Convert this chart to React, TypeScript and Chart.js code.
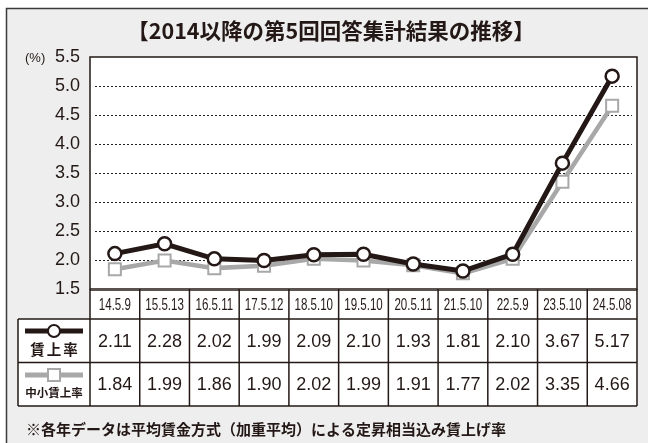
import React, { useEffect, useRef } from "react";
import { Chart, registerables } from "chart.js";

Chart.register(...registerables);

const W = 648;
const H = 443;

const titleText = "【2014以降の第5回回答集計結果の推移】";
const footerText = "※各年データは平均賃金方式（加重平均）による定昇相当込み賃上げ率";
const yUnitLabel = "(%)";

const categories = [
  "14.5.9",
  "15.5.13",
  "16.5.11",
  "17.5.12",
  "18.5.10",
  "19.5.10",
  "20.5.11",
  "21.5.10",
  "22.5.9",
  "23.5.10",
  "24.5.08",
];

const seriesNames = ["賃上率", "中小賃上率"];
const wageRates = [2.11, 2.28, 2.02, 1.99, 2.09, 2.1, 1.93, 1.81, 2.1, 3.67, 5.17];
const smeWageRates = [1.84, 1.99, 1.86, 1.9, 2.02, 1.99, 1.91, 1.77, 2.02, 3.35, 4.66];

const yMin = 1.5;
const yMax = 5.5;
const yStep = 0.5;

const DARK = "#231815";
const GRAY = "#a8a8a8";
const CJK = '"Noto Sans CJK JP", "Noto Sans", sans-serif';
const LATIN = '"Liberation Sans", Arial, sans-serif';

const TABLE_CAT_BOTTOM = 319;
const TABLE_ROW1_BOTTOM = 362.5;
const TABLE_ROW2_BOTTOM = 406;
const TABLE_LEFT = 18;

const decoPlugin = {
  id: "decoPlugin",
  beforeDraw(chart: any) {
    const ctx = chart.ctx as CanvasRenderingContext2D;
    const { left, right, top, bottom } = chart.chartArea;
    ctx.save();
    ctx.fillStyle = "#ffffff";
    ctx.fillRect(0, 0, W, H);
    ctx.fillStyle = "#eeeeee";
    ctx.fillRect(6, 8, W, H);
    ctx.strokeStyle = "#3a3a3a";
    ctx.lineWidth = 1.5;
    ctx.strokeRect(6.5, 8.5, W + 20, H + 20);

    // plot area
    ctx.fillStyle = "#ffffff";
    ctx.fillRect(left, top, right - left, bottom - top);

    // title
    ctx.fillStyle = DARK;
    ctx.font = `bold 21.5px ${CJK}`;
    ctx.textAlign = "center";
    ctx.textBaseline = "middle";
    ctx.fillText(titleText, 331, 31);

    // dotted grid lines
    const ys = chart.scales.y;
    ctx.strokeStyle = "#222";
    ctx.lineWidth = 1;
    ctx.setLineDash([2, 2]);
    for (let v = yMin + yStep; v < yMax - 1e-9; v += yStep) {
      const py = Math.round(ys.getPixelForValue(v)) + 0.5;
      ctx.beginPath();
      ctx.moveTo(left + 5, py);
      ctx.lineTo(right - 5, py);
      ctx.stroke();
    }
    ctx.setLineDash([]);

    // unit label
    ctx.font = `13px ${LATIN}`;
    ctx.textAlign = "left";
    ctx.fillStyle = DARK;
    ctx.fillText(yUnitLabel, 25, ys.getPixelForValue(yMax) + 1);
    ctx.restore();
  },
  afterDraw(chart: any) {
    const ctx = chart.ctx as CanvasRenderingContext2D;
    const { left, right, top, bottom } = chart.chartArea;
    const xs = chart.scales.x;
    ctx.save();

    // plot border
    ctx.strokeStyle = DARK;
    ctx.lineWidth = 1.5;
    ctx.strokeRect(left, top, right - left, bottom - top);

    // table column edges
    const n = categories.length;
    const centers = categories.map((_, i) => xs.getPixelForValue(i));
    const edges: number[] = [left];
    for (let i = 0; i < n - 1; i++) edges.push((centers[i] + centers[i + 1]) / 2);
    edges.push(right);

    // table background
    ctx.fillStyle = "#ffffff";
    ctx.fillRect(left, bottom, right - left, TABLE_ROW2_BOTTOM - bottom);
    ctx.fillRect(TABLE_LEFT, TABLE_CAT_BOTTOM, left - TABLE_LEFT, TABLE_ROW2_BOTTOM - TABLE_CAT_BOTTOM);

    ctx.strokeStyle = DARK;
    ctx.lineWidth = 1.5;
    const hl = (x1: number, x2: number, y: number) => {
      ctx.beginPath();
      ctx.moveTo(x1, y);
      ctx.lineTo(x2, y);
      ctx.stroke();
    };
    const vl = (x: number, y1: number, y2: number) => {
      ctx.beginPath();
      ctx.moveTo(x, y1);
      ctx.lineTo(x, y2);
      ctx.stroke();
    };
    hl(left, right, bottom + 1);
    hl(TABLE_LEFT, right, TABLE_CAT_BOTTOM);
    hl(TABLE_LEFT, right, TABLE_ROW1_BOTTOM);
    hl(TABLE_LEFT, right, TABLE_ROW2_BOTTOM);
    vl(TABLE_LEFT, TABLE_CAT_BOTTOM, TABLE_ROW2_BOTTOM);
    edges.forEach((x) => vl(x, bottom, TABLE_ROW2_BOTTOM));

    // category labels (condensed)
    ctx.fillStyle = DARK;
    ctx.textAlign = "center";
    ctx.textBaseline = "middle";
    ctx.font = `16.5px ${LATIN}`;
    const catY = (bottom + TABLE_CAT_BOTTOM) / 2 + 1;
    categories.forEach((c, i) => {
      ctx.save();
      ctx.translate(centers[i], catY);
      ctx.scale(0.7, 1);
      ctx.fillText(c, 0, 0, 64);
      ctx.restore();
    });

    // values
    ctx.font = `18px ${LATIN}`;
    const r1y = (TABLE_CAT_BOTTOM + TABLE_ROW1_BOTTOM) / 2 + 1;
    const r2y = (TABLE_ROW1_BOTTOM + TABLE_ROW2_BOTTOM) / 2 + 1;
    wageRates.forEach((v, i) => ctx.fillText(v.toFixed(2), centers[i], r1y));
    smeWageRates.forEach((v, i) => ctx.fillText(v.toFixed(2), centers[i], r2y));

    // legend column
    const lx1 = 25;
    const lx2 = 83;
    const lc = 54;
    ctx.strokeStyle = DARK;
    ctx.lineWidth = 5;
    hl(lx1, lx2, 331);
    ctx.fillStyle = "#fff";
    ctx.lineWidth = 2;
    ctx.beginPath();
    ctx.arc(lc, 331, 6, 0, Math.PI * 2);
    ctx.fill();
    ctx.stroke();
    ctx.fillStyle = DARK;
    ctx.font = `bold 14.5px ${CJK}`;
    (ctx as any).letterSpacing = "2px";
    ctx.fillText(seriesNames[0], lc + 1, 349);
    (ctx as any).letterSpacing = "0px";
    ctx.strokeStyle = GRAY;
    ctx.lineWidth = 5;
    hl(lx1, lx2, 375);
    ctx.fillStyle = "#fff";
    ctx.lineWidth = 2;
    ctx.fillRect(lc - 6, 369, 12, 12);
    ctx.strokeRect(lc - 6, 369, 12, 12);
    ctx.fillStyle = DARK;
    ctx.font = `bold 11.5px ${CJK}`;
    ctx.fillText(seriesNames[1], lc, 393);

    // footer
    ctx.textAlign = "left";
    ctx.font = `bold 15px ${CJK}`;
    ctx.fillText(footerText, 26, 429);

    ctx.restore();
  },
};

export default function App() {
  const ref = useRef<HTMLCanvasElement | null>(null);

  useEffect(() => {
    if (!ref.current) return;
    const chart = new Chart(ref.current, {
      type: "line",
      data: {
        labels: categories,
        datasets: [
          {
            label: seriesNames[0],
            data: wageRates,
            borderColor: DARK,
            borderWidth: 5,
            pointStyle: "circle",
            pointRadius: 6.5,
            pointHoverRadius: 6.5,
            pointBackgroundColor: "#ffffff",
            pointBorderColor: DARK,
            pointBorderWidth: 2.5,
            tension: 0,
          },
          {
            label: seriesNames[1],
            data: smeWageRates,
            borderColor: GRAY,
            borderWidth: 4.5,
            pointStyle: "rect",
            pointRadius: 8.5,
            pointHoverRadius: 8.5,
            pointBackgroundColor: "#ffffff",
            pointBorderColor: GRAY,
            pointBorderWidth: 2,
            tension: 0,
          },
        ],
      },
      options: {
        animation: false,
        responsive: false,
        maintainAspectRatio: false,
        layout: { padding: { left: 0, top: 57, right: 11, bottom: H - 289 } },
        plugins: {
          legend: { display: false },
          title: { display: false },
          tooltip: { enabled: false },
        },
        scales: {
          x: {
            type: "category",
            offset: true,
            display: false,
          },
          y: {
            min: yMin,
            max: yMax,
            afterFit: (scale: any) => {
              scale.width = 90;
            },
            ticks: {
              stepSize: yStep,
              padding: 10,
              color: DARK,
              font: { family: LATIN, size: 18 },
              callback: (v: any) => Number(v).toFixed(1),
            },
            grid: { display: false, drawTicks: false },
            border: { display: false },
          },
        },
      },
      plugins: [decoPlugin],
    } as any);
    return () => chart.destroy();
  }, []);

  return (
    <div style={{ position: "absolute", left: 0, top: 0, width: W, height: H, background: "#fff" }}>
      <canvas ref={ref} width={W} height={H} style={{ display: "block", width: W, height: H }} />
    </div>
  );
}
